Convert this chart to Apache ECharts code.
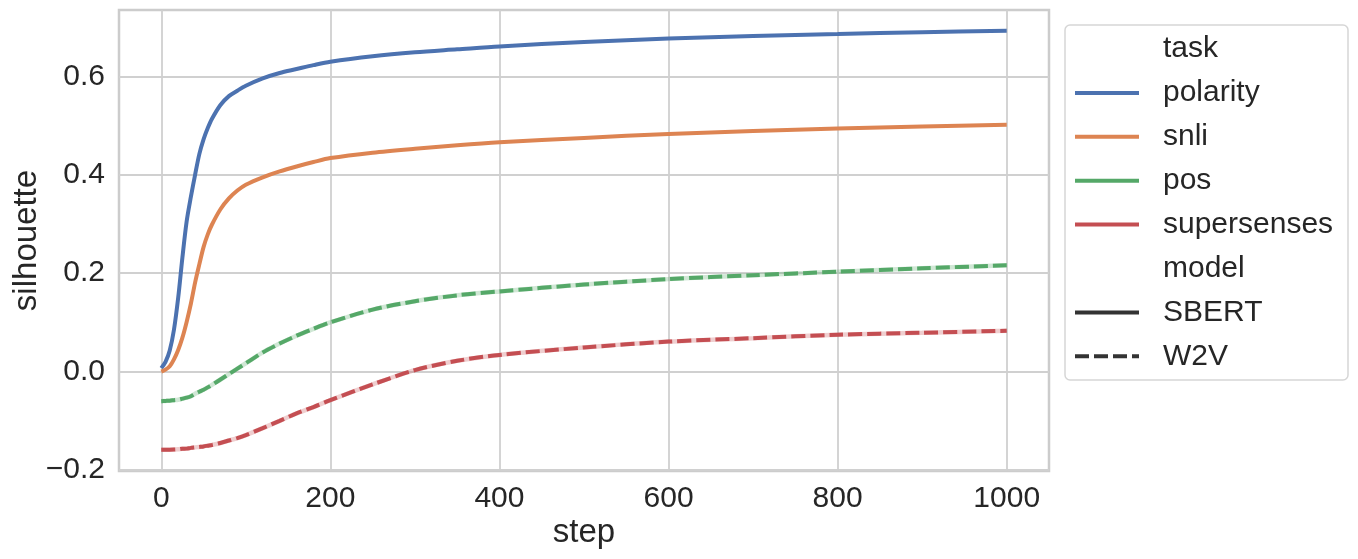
<!DOCTYPE html>
<html>
<head>
<meta charset="utf-8">
<script src="https://cdn.jsdelivr.net/npm/echarts@6/dist/echarts.min.js"></script>
<style>
html, body { margin: 0; padding: 0; background: #ffffff; }
#chart { width: 1358px; height: 559px; }
</style>
</head>
<body>
<div id="chart"></div>
<script>
// data
var steps = [0, 5, 10, 15, 20, 25, 30, 35, 40, 45, 50, 55, 60, 70, 80, 90, 100, 120, 140, 160, 180, 200, 250, 300, 350, 400, 500, 600, 700, 800, 900, 1000];
var polarity = [0.007, 0.020, 0.043, 0.085, 0.150, 0.232, 0.305, 0.355, 0.400, 0.442, 0.472, 0.495, 0.514, 0.542, 0.560, 0.571, 0.581, 0.596, 0.607, 0.615, 0.623, 0.630, 0.641, 0.649, 0.655, 0.661, 0.670, 0.677, 0.682, 0.686, 0.690, 0.693];
var snli = [0.000, 0.004, 0.011, 0.025, 0.044, 0.069, 0.101, 0.138, 0.181, 0.218, 0.253, 0.279, 0.299, 0.330, 0.352, 0.368, 0.380, 0.395, 0.407, 0.417, 0.426, 0.434, 0.445, 0.453, 0.460, 0.466, 0.475, 0.483, 0.489, 0.494, 0.498, 0.502];
var pos = [-0.060, -0.0595, -0.059, -0.058, -0.057, -0.055, -0.053, -0.050, -0.045, -0.041, -0.037, -0.032, -0.027, -0.016, -0.005, 0.006, 0.017, 0.039, 0.057, 0.073, 0.087, 0.100, 0.126, 0.143, 0.155, 0.163, 0.177, 0.188, 0.196, 0.203, 0.210, 0.216];
var supersenses = [-0.159, -0.159, -0.1588, -0.1585, -0.158, -0.157, -0.1565, -0.155, -0.154, -0.153, -0.152, -0.1505, -0.149, -0.145, -0.140, -0.135, -0.129, -0.115, -0.100, -0.085, -0.072, -0.058, -0.026, 0.003, 0.022, 0.034, 0.049, 0.061, 0.068, 0.075, 0.079, 0.083];

var taskNames = ['polarity', 'snli', 'pos', 'supersenses'];
var taskModels = ['SBERT', 'SBERT', 'W2V', 'W2V'];
var taskValues = [polarity, snli, pos, supersenses];
var modelNames = ['SBERT', 'W2V'];
var xTicks = [0, 200, 400, 600, 800, 1000];
var yTicks = [-0.2, 0, 0.2, 0.4, 0.6];

var colors = ['#4c72b0', '#dd8452', '#55a868', '#c44e52'];
var font = '"Liberation Sans", Arial, sans-serif';
var ink = '#262626';
var dash = [14, 5];

function pairs(vals) {
    return steps.map(function (s, i) { return [s, vals[i]]; });
}

var series = [];
taskNames.forEach(function (name, i) {
    var dashed = taskModels[i] === 'W2V';
    if (dashed) {
        // thin pale band seen between the dashes
        series.push({
            name: name + ' band',
            type: 'line',
            data: pairs(taskValues[i]),
            showSymbol: false,
            silent: true,
            smooth: 0.3,
            z: 1,
            lineStyle: { color: colors[i], width: 4.5, opacity: 0.28 }
        });
    }
    series.push({
        name: name,
        type: 'line',
        data: pairs(taskValues[i]),
        showSymbol: false,
        smooth: 0.3,
        z: 2,
        lineStyle: { color: colors[i], width: 4, type: dashed ? dash : 'solid', cap: 'butt' }
    });
});

// legend drawn by hand (seaborn style with section headers)
var lx = 1075, lx2 = 1139, tx = 1163, ly0 = 49, lstep = 43.9;
var legendEls = [{
    type: 'rect',
    shape: { x: 1065, y: 25, width: 283, height: 355, r: 5 },
    style: { fill: '#ffffff', stroke: '#d6d6d6', lineWidth: 1.5 }
}];
var rows = [{ label: 'task' }];
taskNames.forEach(function (n, i) { rows.push({ label: n, color: colors[i], dashed: false }); });
rows.push({ label: 'model' });
modelNames.forEach(function (m, i) { rows.push({ label: m, color: '#333333', dashed: i === 1 }); });
rows.forEach(function (r, k) {
    var y = ly0 + k * lstep;
    if (r.color) {
        legendEls.push({
            type: 'line',
            shape: { x1: lx, y1: y, x2: lx2, y2: y },
            style: { stroke: r.color, lineWidth: 4, lineDash: r.dashed ? [14, 5] : null, lineCap: 'butt' }
        });
    }
    legendEls.push({
        type: 'text',
        x: tx, y: y,
        style: { text: r.label, fill: ink, font: '30px ' + font, textVerticalAlign: 'middle', verticalAlign: 'middle' }
    });
});

var chart = echarts.init(document.getElementById('chart'));
chart.setOption({
    backgroundColor: '#ffffff',
    animation: false,
    grid: {
        left: 119, right: 309, top: 10, bottom: 88,
        show: true, borderColor: '#cccccc', borderWidth: 2.5,
        containLabel: false, outerBoundsMode: 'none'
    },
    xAxis: {
        type: 'value', min: -50, max: 1050,
        name: 'step', nameLocation: 'middle', nameGap: 45, nameMoveOverlap: false,
        nameTextStyle: { fontFamily: font, fontSize: 33, color: ink },
        axisLine: { show: false },
        axisTick: { show: false, customValues: xTicks },
        axisLabel: {
            customValues: xTicks, fontFamily: font, fontSize: 30, color: ink, margin: 13,
            formatter: function (v) { return String(v); }
        },
        splitLine: { show: true, lineStyle: { color: '#d0d0d0', width: 1.8 } }
    },
    yAxis: {
        type: 'value', min: -0.202, max: 0.735,
        name: 'silhouette', nameLocation: 'middle', nameGap: 76, nameMoveOverlap: false,
        nameTextStyle: { fontFamily: font, fontSize: 33, color: ink },
        axisLine: { show: false },
        axisTick: { show: false, customValues: yTicks },
        axisLabel: {
            customValues: yTicks, fontFamily: font, fontSize: 30, color: ink, margin: 14,
            formatter: function (v) { return (v < 0 ? '\u2212' : '') + Math.abs(v).toFixed(1); }
        },
        splitLine: { show: true, lineStyle: { color: '#d0d0d0', width: 1.8 } }
    },
    series: series,
    graphic: legendEls
});
</script>
</body>
</html>
